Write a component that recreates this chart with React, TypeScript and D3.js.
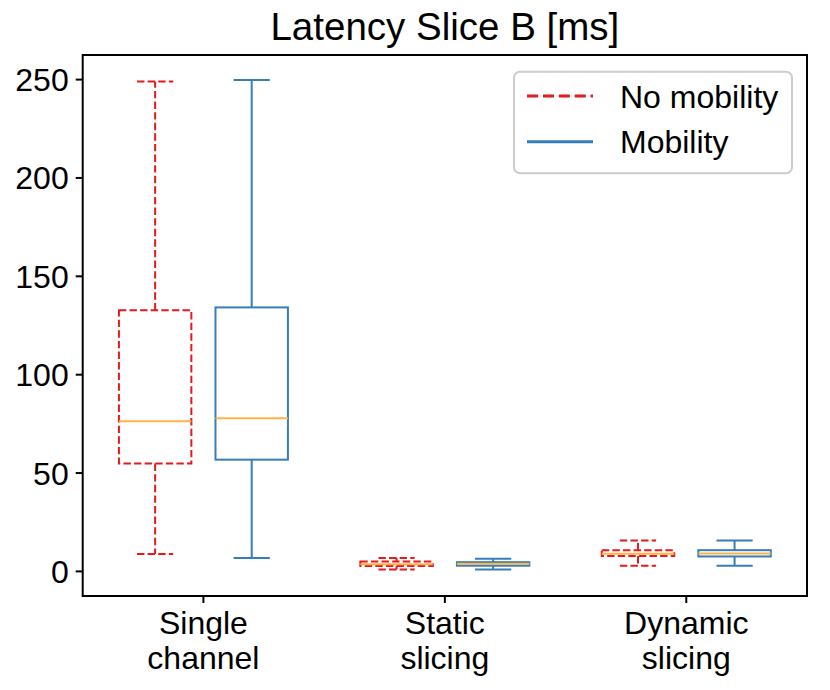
import * as d3 from "d3";

// category labels (two lines each)
const categories = ["Single\nchannel", "Static\nslicing", "Dynamic\nslicing"];
const seriesNames = ["No mobility", "Mobility"];

// box stats per category: [lowWhisker, q1, median, q3, highWhisker]
const noMobility = [
  [8.8, 54.8, 76.3, 132.7, 249.0],
  [1.0, 2.7, 3.7, 5.1, 6.8],
  [2.9, 7.8, 9.0, 10.7, 15.7],
];
const mobility = [
  [6.8, 56.8, 77.8, 134.2, 249.8],
  [1.0, 2.9, 3.9, 4.7, 6.4],
  [2.9, 7.6, 9.1, 10.8, 15.7],
];
const yTicks = [0, 50, 100, 150, 200, 250];
const yLimits = [-12.5, 262.5];

const width = 830;
const height = 690;
const left = 82.7;
const right = 807;
const top = 55;
const bottom = 596;
const font = "'Liberation Sans', Arial, sans-serif";

const colors = ["#e41a1c", "#377eb8"];
const medianColor = "#ffb347";

export default function App() {
  const x = d3.scaleBand<string>().domain(categories).range([left, right]);
  const y = d3.scaleLinear().domain(yLimits).range([bottom, top]);
  const bw = x.bandwidth();
  const boxW = 0.3 * bw;
  const capW = boxW / 2;

  const series = [noMobility, mobility];

  return (
    <div style={{ position: "absolute", left: 0, top: 0 }}>
      <svg width={width} height={height} style={{ display: "block", background: "#fff" }}>
        <text
          x={(left + right) / 2}
          y={40}
          textAnchor="middle"
          fontFamily={font}
          fontSize={38.5}
        >
          Latency Slice B [ms]
        </text>

        {series.map((data, si) => {
          const dash = si === 0 ? "7.4,3.2" : "none";
          return (
            <g key={seriesNames[si]}>
              {data.map((d, ci) => {
                const cx = x(categories[ci])! + bw / 2 + (si === 0 ? -0.2 : 0.2) * bw;
                const [lo, q1, med, q3, hi] = d;
                return (
                  <g key={ci} fill="none" strokeWidth={2}>
                    <g stroke={colors[si]} strokeDasharray={dash}>
                      <rect x={cx - boxW / 2} y={y(q3)} width={boxW} height={y(q1) - y(q3)} />
                      <line x1={cx} x2={cx} y1={y(q1)} y2={y(lo)} />
                      <line x1={cx} x2={cx} y1={y(q3)} y2={y(hi)} />
                      <line x1={cx - capW / 2} x2={cx + capW / 2} y1={y(lo)} y2={y(lo)} />
                      <line x1={cx - capW / 2} x2={cx + capW / 2} y1={y(hi)} y2={y(hi)} />
                    </g>
                    <line
                      x1={cx - boxW / 2}
                      x2={cx + boxW / 2}
                      y1={y(med)}
                      y2={y(med)}
                      stroke={medianColor}
                    />
                  </g>
                );
              })}
            </g>
          );
        })}

        {/* axes frame */}
        <rect x={left} y={top} width={right - left} height={bottom - top} fill="none" stroke="#000" strokeWidth={2} />

        {yTicks.map((t) => (
          <g key={t}>
            <line x1={left - 7} x2={left} y1={y(t)} y2={y(t)} stroke="#000" strokeWidth={2} />
            <text x={left - 14} y={y(t) + 11.5} textAnchor="end" fontFamily={font} fontSize={32}>
              {t}
            </text>
          </g>
        ))}

        {categories.map((c) => {
          const cx = x(c)! + bw / 2;
          return (
            <g key={c}>
              <line x1={cx} x2={cx} y1={bottom} y2={bottom + 7} stroke="#000" strokeWidth={2} />
              {c.split("\n").map((ln, i) => (
                <text key={i} x={cx} y={634 + i * 35} textAnchor="middle" fontFamily={font} fontSize={32}>
                  {ln}
                </text>
              ))}
            </g>
          );
        })}

        {/* legend */}
        <rect
          x={514}
          y={71.7}
          width={792 - 514}
          height={173.3 - 71.7}
          rx={6}
          fill="#fff"
          fillOpacity={0.8}
          stroke="#cccccc"
          strokeWidth={2}
        />
        {seriesNames.map((name, i) => {
          const ly = 96 + i * 45.7;
          return (
            <g key={name}>
              <line
                x1={527}
                x2={593}
                y1={ly}
                y2={ly}
                stroke={colors[i]}
                strokeWidth={3}
                strokeDasharray={i === 0 ? "11.1,4.8" : undefined}
              />
              <text x={620} y={ly + 11.5} fontFamily={font} fontSize={32}>
                {name}
              </text>
            </g>
          );
        })}
      </svg>
    </div>
  );
}
